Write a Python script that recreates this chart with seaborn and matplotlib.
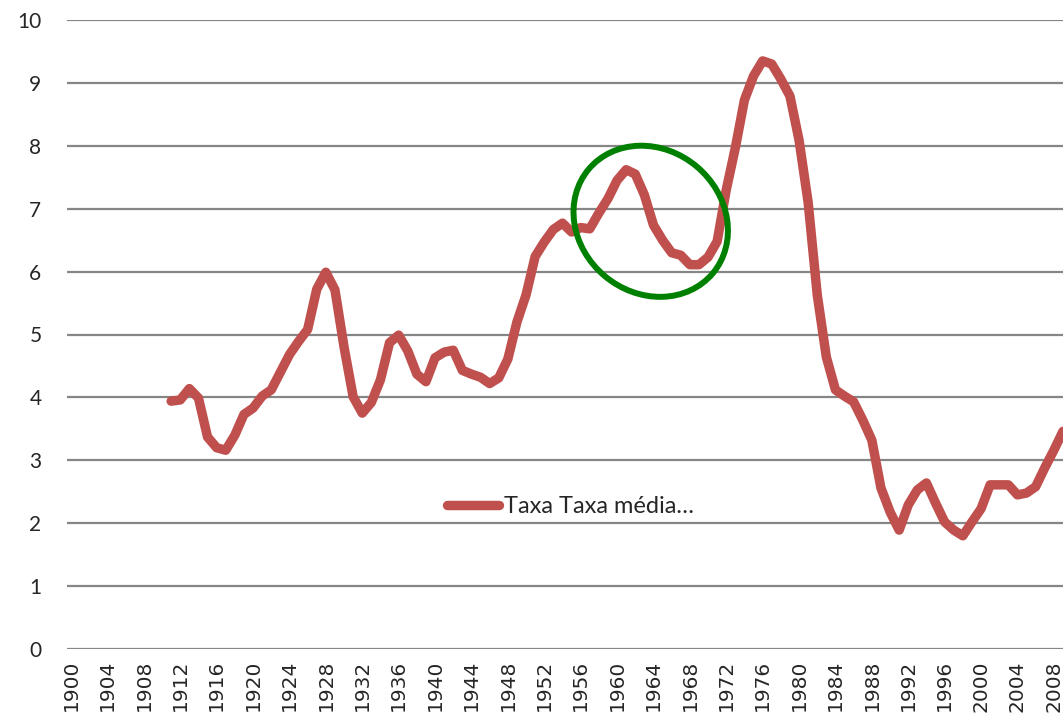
import matplotlib
matplotlib.use("Agg")
import matplotlib.pyplot as plt
from matplotlib.patches import Ellipse
from matplotlib.transforms import IdentityTransform
import seaborn as sns
import pandas as pd

years = list(range(1911, 2010))
values = [3.94, 3.96, 4.14, 3.99, 3.37, 3.20, 3.16, 3.40, 3.73, 3.83,
          4.02, 4.12, 4.40, 4.68, 4.89, 5.08, 5.72, 5.99, 5.71, 4.80,
          4.01, 3.75, 3.92, 4.28, 4.87, 4.99, 4.74, 4.37, 4.25, 4.63,
          4.72, 4.75, 4.43, 4.37, 4.32, 4.22, 4.31, 4.61, 5.20, 5.63,
          6.24, 6.47, 6.67, 6.77, 6.63, 6.70, 6.68, 6.93, 7.16, 7.45,
          7.62, 7.55, 7.22, 6.74, 6.50, 6.30, 6.26, 6.11, 6.11, 6.23,
          6.48, 7.30, 7.97, 8.73, 9.11, 9.35, 9.30, 9.06, 8.79, 8.09,
          7.10, 5.63, 4.64, 4.12, 4.02, 3.93, 3.64, 3.32, 2.56, 2.18,
          1.89, 2.29, 2.53, 2.64, 2.32, 2.02, 1.89, 1.80, 2.02, 2.23,
          2.61, 2.61, 2.61, 2.45, 2.48, 2.58, 2.88, 3.16, 3.46]
series_label = "Taxa Taxa média…"
x_ticks = list(range(1900, 2009, 4))
y_ticks = list(range(0, 11))

df = pd.DataFrame({"ano": years, "taxa": values})

sns.set_style("white")
plt.rcParams["font.family"] = ["DejaVu Sans"]

fig = plt.figure(figsize=(10.63, 7.23), dpi=100)
ax = fig.add_axes([66.5 / 1063, 74 / 723, 1 - 66.5 / 1063, 629 / 723])

sns.lineplot(data=df, x="ano", y="taxa", ax=ax, color="#C0504D",
             linewidth=6.8, label=series_label, solid_capstyle="round",
             solid_joinstyle="round", zorder=3)

ax.set_xlim(1899.5, 1899.5 + (1063 - 66.5) / 9.1)
ax.set_ylim(0, 10)
ax.set_xticks(x_ticks)
ax.set_xticklabels([str(t) for t in x_ticks], rotation=90, fontsize=14.5,
                   family="DejaVu Sans")
ax.set_yticks(y_ticks)
ax.set_yticklabels([str(t) for t in y_ticks], fontsize=15, family="Lato")
ax.tick_params(axis="x", length=0, pad=8)
ax.tick_params(axis="y", length=0, pad=18)
ax.set_xlabel("")
ax.set_ylabel("")
ax.yaxis.grid(True, color="#868686", linewidth=1.6)
ax.xaxis.grid(False)
ax.set_axisbelow(True)
for s in ax.spines.values():
    s.set_visible(False)

leg = ax.legend(loc="center left", bbox_to_anchor=(0.382, 0.226),
                frameon=False, handlelength=2.2,
                handletextpad=0.2, borderpad=0, borderaxespad=0,
                prop={"family": "Lato", "size": 17})

# green highlight ellipse (annotation)
cx, cy = ax.transData.transform((1963.7, 6.8))
ell = Ellipse((cx, cy), width=162, height=143, angle=-40, fill=False,
              edgecolor="#008000", linewidth=4.3, transform=IdentityTransform())
fig.add_artist(ell)

fig.savefig("out.png", dpi=100)
